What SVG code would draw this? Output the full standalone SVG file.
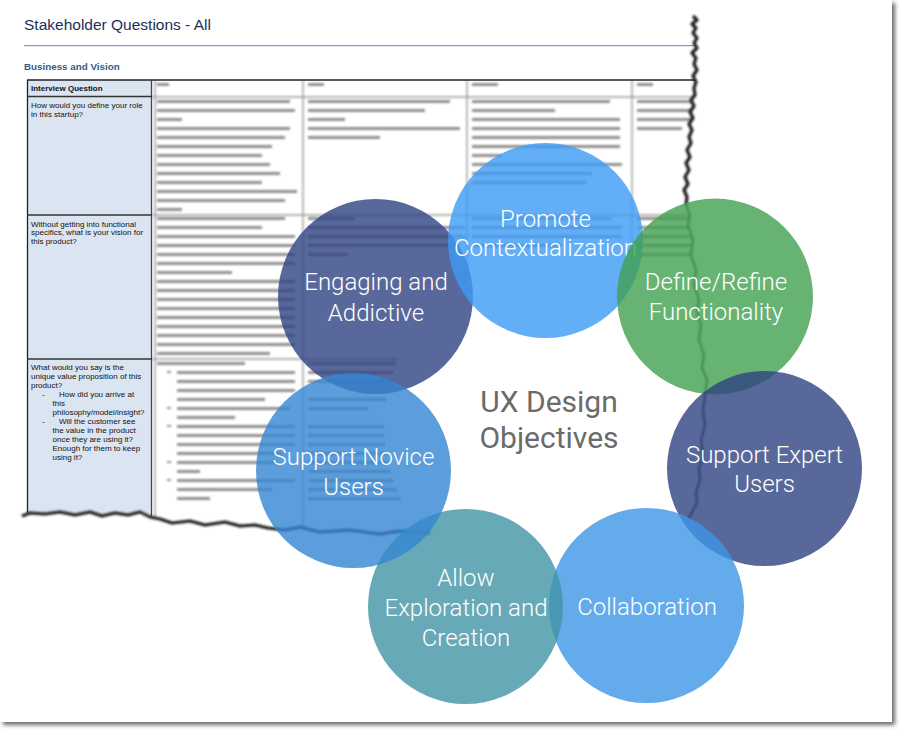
<svg xmlns="http://www.w3.org/2000/svg" width="903" height="732" viewBox="0 0 903 732">
<style>
.b{fill:#7a7373;opacity:0.8}
.ct{font-family:"Liberation Sans",Arial,sans-serif;font-size:8px;fill:#111}
.lbl{font-family:Roboto,"Liberation Sans",sans-serif;font-weight:300;font-size:24px;fill:#fff;text-anchor:middle}
.ux{font-family:Roboto,"Liberation Sans",sans-serif;font-weight:400;font-size:30px;fill:#6b6b6b;text-anchor:middle}
.circ{fill-opacity:0.8}
</style>
<defs>
<filter id="fshadow" x="-5%" y="-5%" width="110%" height="110%"><feGaussianBlur stdDeviation="2"/></filter>
<filter id="fblur" x="-10%" y="-10%" width="120%" height="120%"><feGaussianBlur stdDeviation="1.3"/></filter>
<filter id="fedge" x="-10%" y="-10%" width="120%" height="120%"><feGaussianBlur stdDeviation="1.2"/></filter>
<clipPath id="docclip"><polygon points="0,0 694,0 693,16 697,20 692,24 696,28 693,33 697,38 694,43 697,48 692,53 696,58 694,64 697,70 693,76 696,82 694,88 695,95 691,100 694,106 690,112 693,118 689,124 692,130 689,137 691,143 687,150 690,157 686,163 689,170 685,177 688,184 684,190 687,197 686,205 690,215 688,225 693,240 691,255 696,270 694,285 699,300 697,312 701,325 699,340 704,355 702,368 707,380 705,395 703,410 705,425 701,440 703,455 699,468 700,480 696,492 697,503 692,512 688,520 660,528 560,530 430,532 400,530 380,533 350,529 320,531 300,526 285,529 268,527 255,524 240,525 225,521 205,524 190,520 172,522 160,518 150,516 140,511 128,514 115,512 102,515 90,511 75,514 60,511 45,513 30,512 22,515 0,515"/></clipPath>
</defs>

<!-- frame -->
<rect x="3" y="3" width="892" height="722" fill="#444" opacity="0.8" filter="url(#fshadow)"/>
<rect x="0" y="0" width="892" height="722" fill="#fff"/>

<!-- document -->
<g id="document" clip-path="url(#docclip)">
  <text x="24" y="30" font-family="'Liberation Sans',Arial,sans-serif" font-size="15.5" fill="#1c2f57">Stakeholder Questions - All</text>
  <line x1="24" y1="45.7" x2="700" y2="45.7" stroke="#5a88c6" stroke-width="1"/>
  <text x="24" y="69.5" font-family="'Liberation Sans',Arial,sans-serif" font-size="9.8" font-weight="bold" fill="#355a8e">Business and Vision</text>

  <rect x="27" y="80" width="125" height="450" fill="#dbe5f1"/>

  <!-- blurred grid and content -->
  <g filter="url(#fblur)">
    <g stroke="#9a9a9a" stroke-width="1.4">
      <line x1="155" y1="80" x2="155" y2="530"/>
      <line x1="303" y1="80" x2="303" y2="530"/>
      <line x1="467" y1="80" x2="467" y2="530"/>
      <line x1="632" y1="80" x2="632" y2="530"/>
      <line x1="152" y1="97" x2="700" y2="97"/>
      <line x1="152" y1="215" x2="700" y2="215"/>
      <line x1="152" y1="359" x2="700" y2="359"/>
    </g>
    <rect class="b" x="157" y="83" width="12" height="3"/>
    <rect class="b" x="308" y="83" width="16" height="3"/>
    <rect class="b" x="472" y="83" width="26" height="3"/>
    <rect class="b" x="637" y="83" width="16" height="3"/>
    <rect class="b" x="157" y="100" width="133" height="3"/>
    <rect class="b" x="157" y="109" width="138" height="3"/>
    <rect class="b" x="157" y="118" width="25" height="3"/>
    <rect class="b" x="157" y="127" width="133" height="3"/>
    <rect class="b" x="157" y="136" width="128" height="3"/>
    <rect class="b" x="157" y="145" width="115" height="3"/>
    <rect class="b" x="157" y="154" width="105" height="3"/>
    <rect class="b" x="157" y="163" width="113" height="3"/>
    <rect class="b" x="157" y="172" width="123" height="3"/>
    <rect class="b" x="157" y="181" width="105" height="3"/>
    <rect class="b" x="157" y="190" width="140" height="3"/>
    <rect class="b" x="157" y="199" width="128" height="3"/>
    <rect class="b" x="157" y="208" width="25" height="3"/>
    <rect class="b" x="157" y="217" width="128" height="3"/>
    <rect class="b" x="157" y="226" width="105" height="3"/>
    <rect class="b" x="157" y="235" width="138" height="3"/>
    <rect class="b" x="157" y="244" width="138" height="3"/>
    <rect class="b" x="157" y="253" width="138" height="3"/>
    <rect class="b" x="157" y="262" width="138" height="3"/>
    <rect class="b" x="157" y="271" width="75" height="3"/>
    <rect class="b" x="157" y="280" width="138" height="3"/>
    <rect class="b" x="157" y="289" width="138" height="3"/>
    <rect class="b" x="157" y="298" width="138" height="3"/>
    <rect class="b" x="157" y="307" width="138" height="3"/>
    <rect class="b" x="157" y="316" width="138" height="3"/>
    <rect class="b" x="157" y="325" width="138" height="3"/>
    <rect class="b" x="157" y="334" width="138" height="3"/>
    <rect class="b" x="157" y="343" width="138" height="3"/>
    <rect class="b" x="157" y="352" width="113" height="3"/>
    <rect class="b" x="157" y="362" width="88" height="3"/>
    <rect class="b" x="167" y="371" width="4" height="2"/>
    <rect class="b" x="177" y="371" width="118" height="3"/>
    <rect class="b" x="177" y="380" width="118" height="3"/>
    <rect class="b" x="177" y="389" width="118" height="3"/>
    <rect class="b" x="177" y="398" width="88" height="3"/>
    <rect class="b" x="167" y="407" width="4" height="2"/>
    <rect class="b" x="177" y="407" width="113" height="3"/>
    <rect class="b" x="177" y="416" width="58" height="3"/>
    <rect class="b" x="167" y="425" width="4" height="2"/>
    <rect class="b" x="177" y="425" width="118" height="3"/>
    <rect class="b" x="177" y="434" width="118" height="3"/>
    <rect class="b" x="177" y="443" width="118" height="3"/>
    <rect class="b" x="177" y="452" width="105" height="3"/>
    <rect class="b" x="167" y="461" width="4" height="2"/>
    <rect class="b" x="177" y="461" width="100" height="3"/>
    <rect class="b" x="177" y="470" width="23" height="3"/>
    <rect class="b" x="167" y="479" width="4" height="2"/>
    <rect class="b" x="177" y="479" width="118" height="3"/>
    <rect class="b" x="177" y="488" width="95" height="3"/>
    <rect class="b" x="177" y="497" width="33" height="3"/>
    <rect class="b" x="308" y="100" width="142" height="3"/>
    <rect class="b" x="308" y="109" width="117" height="3"/>
    <rect class="b" x="308" y="118" width="37" height="3"/>
    <rect class="b" x="308" y="127" width="152" height="3"/>
    <rect class="b" x="308" y="136" width="72" height="3"/>
    <rect class="b" x="308" y="217" width="47" height="3"/>
    <rect class="b" x="308" y="226" width="157" height="3"/>
    <rect class="b" x="308" y="235" width="157" height="3"/>
    <rect class="b" x="308" y="244" width="152" height="3"/>
    <rect class="b" x="308" y="253" width="40" height="3"/>
    <rect class="b" x="308" y="362" width="130" height="3"/>
    <rect class="b" x="308" y="371" width="130" height="3"/>
    <rect class="b" x="308" y="380" width="100" height="3"/>
    <rect class="b" x="308" y="398" width="100" height="3"/>
    <rect class="b" x="308" y="407" width="60" height="3"/>
    <rect class="b" x="308" y="425" width="125" height="3"/>
    <rect class="b" x="308" y="434" width="125" height="3"/>
    <rect class="b" x="308" y="443" width="110" height="3"/>
    <rect class="b" x="308" y="452" width="120" height="3"/>
    <rect class="b" x="308" y="461" width="130" height="3"/>
    <rect class="b" x="308" y="470" width="125" height="3"/>
    <rect class="b" x="308" y="479" width="120" height="3"/>
    <rect class="b" x="308" y="488" width="105" height="3"/>
    <rect class="b" x="308" y="497" width="125" height="3"/>
    <rect class="b" x="472" y="100" width="138" height="3"/>
    <rect class="b" x="472" y="109" width="83" height="3"/>
    <rect class="b" x="472" y="118" width="148" height="3"/>
    <rect class="b" x="472" y="127" width="148" height="3"/>
    <rect class="b" x="472" y="136" width="148" height="3"/>
    <rect class="b" x="472" y="145" width="148" height="3"/>
    <rect class="b" x="472" y="154" width="30" height="3"/>
    <rect class="b" x="472" y="163" width="150" height="3"/>
    <rect class="b" x="472" y="172" width="120" height="3"/>
    <rect class="b" x="472" y="181" width="115" height="3"/>
    <rect class="b" x="472" y="217" width="140" height="3"/>
    <rect class="b" x="472" y="226" width="150" height="3"/>
    <rect class="b" x="472" y="235" width="150" height="3"/>
    <rect class="b" x="472" y="244" width="90" height="3"/>
    <rect class="b" x="637" y="100" width="60" height="3"/>
    <rect class="b" x="637" y="109" width="60" height="3"/>
    <rect class="b" x="637" y="118" width="60" height="3"/>
    <rect class="b" x="637" y="127" width="45" height="3"/>
    <rect class="b" x="637" y="217" width="60" height="3"/>
    <rect class="b" x="637" y="226" width="60" height="3"/>
    <rect class="b" x="637" y="235" width="60" height="3"/>
    <rect class="b" x="637" y="244" width="60" height="3"/>
    <rect class="b" x="637" y="253" width="60" height="3"/>
  </g>

  <g stroke="#222" stroke-width="1.3" fill="none">
    <line x1="27" y1="80" x2="700" y2="80"/>
    <line x1="27.5" y1="80" x2="27.5" y2="530"/>
    <line x1="151.5" y1="80" x2="151.5" y2="530" stroke="#444"/>
    <line x1="27" y1="96.5" x2="152" y2="96.5" stroke="#333"/>
    <line x1="27" y1="215" x2="152" y2="215" stroke="#333"/>
    <line x1="27" y1="359" x2="152" y2="359" stroke="#333"/>
  </g>
  <text class="ct" x="31" y="91" font-weight="bold">Interview Question</text>
  <text class="ct" x="31" y="108.3">How would you define your role</text>
  <text class="ct" x="31" y="117">in this startup?</text>
  <text class="ct" x="31" y="226.7">Without getting into functional</text>
  <text class="ct" x="31" y="235.4">specifics, what is your vision for</text>
  <text class="ct" x="31" y="244.1">this product?</text>
  <text class="ct" x="31" y="370">What would you say is the</text>
  <text class="ct" x="31" y="379">unique value proposition of this</text>
  <text class="ct" x="31" y="388">product?</text>
  <text class="ct" x="42" y="397">-</text>
  <text class="ct" x="59" y="397">How did you arrive at</text>
  <text class="ct" x="52.5" y="406">this</text>
  <text class="ct" x="52.5" y="415">philosophy/model/insight?</text>
  <text class="ct" x="42" y="424">-</text>
  <text class="ct" x="59" y="424">Will the customer see</text>
  <text class="ct" x="52.5" y="433">the value in the product</text>
  <text class="ct" x="52.5" y="442">once they are using it?</text>
  <text class="ct" x="52.5" y="451">Enough for them to keep</text>
  <text class="ct" x="52.5" y="460">using it?</text>
</g>

<!-- white centre mask -->
<circle cx="552" cy="426" r="168" fill="#fff"/>

<!-- torn edges -->
<g filter="url(#fedge)" fill="none" stroke="#1a1a1a" stroke-linejoin="round">
  <polyline stroke-width="3.2" points="693,16 697,20 692,24 696,28 693,33 697,38 694,43 697,48 692,53 696,58 694,64 697,70 693,76 696,82 694,88 695,95 691,100 694,106 690,112 693,118 689,124 692,130 689,137 691,143 687,150 690,157 686,163 689,170 685,177 688,184 684,190 687,197 686,205"/>
  <polyline stroke-width="2" stroke="#333" points="686,205 690,215 688,225 693,240 691,255 696,270 694,285 699,300 697,312 701,325 699,340 704,355 702,368 707,380 705,395 703,410 705,425 701,440 703,455 699,468 700,480 696,492 697,503 692,512 688,520"/>
  <polyline stroke-width="3" points="430,533 400,531 380,534 350,530 320,532 300,527 285,530 268,528 255,525 240,526 225,522 205,525 190,521 172,523 160,519 150,517 140,512 128,515 115,513 102,516 90,512 75,515 60,512 45,514 30,513 22,516"/>
</g>

<!-- circles -->
<g id="engaging"><circle class="circ" cx="375.5" cy="296.5" r="97.5" fill="#2f4282"/>
  <text class="lbl" x="376" y="290">Engaging and</text><text class="lbl" x="376" y="321">Addictive</text></g>
<g id="promote"><circle class="circ" cx="545.5" cy="240.5" r="97.5" fill="#3c9bf5"/>
  <text class="lbl" x="545.5" y="227">Promote</text><text class="lbl" x="545.5" y="256">Contextualization</text></g>
<g id="define"><circle class="circ" cx="715" cy="296.5" r="98" fill="#40a050"/>
  <text class="lbl" x="716" y="290">Define/Refine</text><text class="lbl" x="716" y="320">Functionality</text></g>
<g id="expert"><circle class="circ" cx="764.5" cy="468.5" r="97.5" fill="#2f4282"/>
  <text class="lbl" x="764.5" y="463">Support Expert</text><text class="lbl" x="764.5" y="492">Users</text></g>
<g id="collaboration"><circle class="circ" cx="646.5" cy="605.5" r="97.5" fill="#3c96e6"/>
  <text class="lbl" x="647" y="615">Collaboration</text></g>
<g id="allow"><circle class="circ" cx="465.5" cy="606.5" r="97.5" fill="#4293a5"/>
  <text class="lbl" x="466" y="586">Allow</text><text class="lbl" x="466" y="616">Exploration and</text><text class="lbl" x="466" y="646">Creation</text></g>
<g id="novice"><circle class="circ" cx="353.5" cy="470.5" r="97.5" fill="#3386d2"/>
  <text class="lbl" x="353.5" y="465">Support Novice</text><text class="lbl" x="353.5" y="495">Users</text></g>

<g id="center"><text class="ux" x="549" y="412">UX Design</text><text class="ux" x="549" y="448">Objectives</text></g>
<g id="connectors"/>
</svg>
